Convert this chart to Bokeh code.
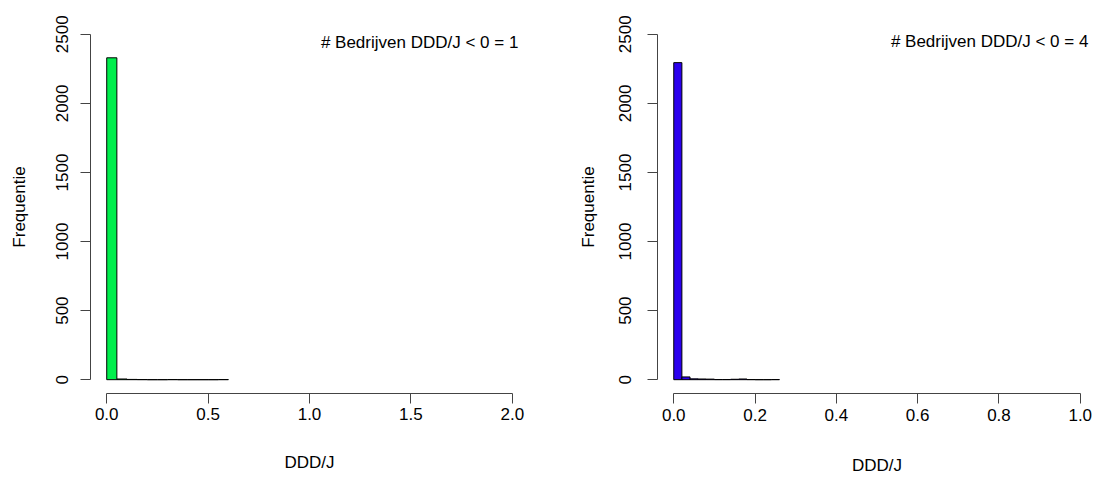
from bokeh.plotting import figure
from bokeh.layouts import row
from bokeh.models import FixedTicker, PrintfTickFormatter, Label, Range1d
from bokeh.embed import file_html
from bokeh.resources import INLINE

# ---- data ----
left_edges = [0.00, 0.05, 0.10, 0.15, 0.20, 0.25, 0.30, 0.35, 0.40, 0.45, 0.50, 0.55, 0.60]
left_counts = [2330, 5, 2, 1, 0, 0, 1, 0, 0, 0, 0, 1]
left_note = "# Bedrijven DDD/J < 0 = 1"
left_xticks = [0.0, 0.5, 1.0, 1.5, 2.0]

right_edges = [0.00, 0.02, 0.04, 0.06, 0.08, 0.10, 0.12, 0.14, 0.16, 0.18, 0.20, 0.22, 0.24, 0.26]
right_counts = [2295, 20, 6, 5, 4, 1, 1, 3, 5, 1, 0, 0, 1]
right_note = "# Bedrijven DDD/J < 0 = 4"
right_xticks = [0.0, 0.2, 0.4, 0.6, 0.8, 1.0]

yticks = [0, 500, 1000, 1500, 2000, 2500]
x_title = "DDD/J"
y_title = "Frequentie"

FONT = "Liberation Sans"
FS = "17px"
AXC = "#444444"


def make(edges, counts, color, xticks, xr, yr, note, note_pos,
         w, h, borders, stand):
    p = figure(width=w, height=h, output_backend="svg", toolbar_location=None,
               x_range=Range1d(*xr), y_range=Range1d(*yr),
               min_border_left=borders[0], min_border_right=borders[1],
               min_border_top=borders[2], min_border_bottom=borders[3])
    p.outline_line_color = None
    p.xgrid.visible = False
    p.ygrid.visible = False
    p.background_fill_color = "white"
    p.border_fill_color = "white"
    p.quad(left=edges[:-1], right=edges[1:], bottom=0, top=counts,
           fill_color=color, line_color="black", line_width=1)
    for ax in (p.xaxis[0], p.yaxis[0]):
        ax.axis_line_color = AXC
        ax.major_tick_line_color = AXC
        ax.minor_tick_line_color = None
        ax.major_tick_out = 10
        ax.major_tick_in = 0
        ax.major_label_text_font = FONT
        ax.major_label_text_font_size = FS
        ax.major_label_text_color = "black"
        ax.axis_label_text_font = FONT
        ax.axis_label_text_font_size = FS
        ax.axis_label_text_font_style = "normal"
        ax.axis_label_text_color = "black"
    p.xaxis.ticker = FixedTicker(ticks=xticks)
    p.xaxis.formatter = PrintfTickFormatter(format="%.1f")
    p.xaxis.bounds = (xticks[0], xticks[-1])
    p.yaxis.ticker = FixedTicker(ticks=yticks)
    p.yaxis.bounds = (yticks[0], yticks[-1])
    p.yaxis.major_label_orientation = "vertical"
    p.xaxis.axis_label = x_title
    p.yaxis.axis_label = y_title
    p.xaxis.major_label_standoff = stand[0]
    p.xaxis.axis_label_standoff = stand[1]
    p.xaxis.axis_label_text_baseline = "middle"
    p.yaxis.major_label_standoff = stand[2]
    p.yaxis.axis_label_standoff = stand[3]
    p.add_layout(Label(x=note_pos[0], y=note_pos[1], text=note, text_align="right",
                       text_baseline="middle", text_font=FONT, text_font_size=FS,
                       text_color="black"))
    return p


p1 = make(left_edges, left_counts, "#00EE4C", left_xticks,
          (-0.08, 2.08), (-100, 2600), left_note, (2.03, 2443),
          548, 479, (90, 20, 20, 81), (4, 30, 12, 25))
p2 = make(right_edges, right_counts, "#2B00EE", right_xticks,
          (-0.04, 1.04), (-100, 2600), right_note, (1.02, 2450),
          548, 479, (109, 0, 17, 86), (5, 32, 16, 19))

layout = row(p1, p2)
open("out.html", "w").write(file_html(layout, INLINE))
